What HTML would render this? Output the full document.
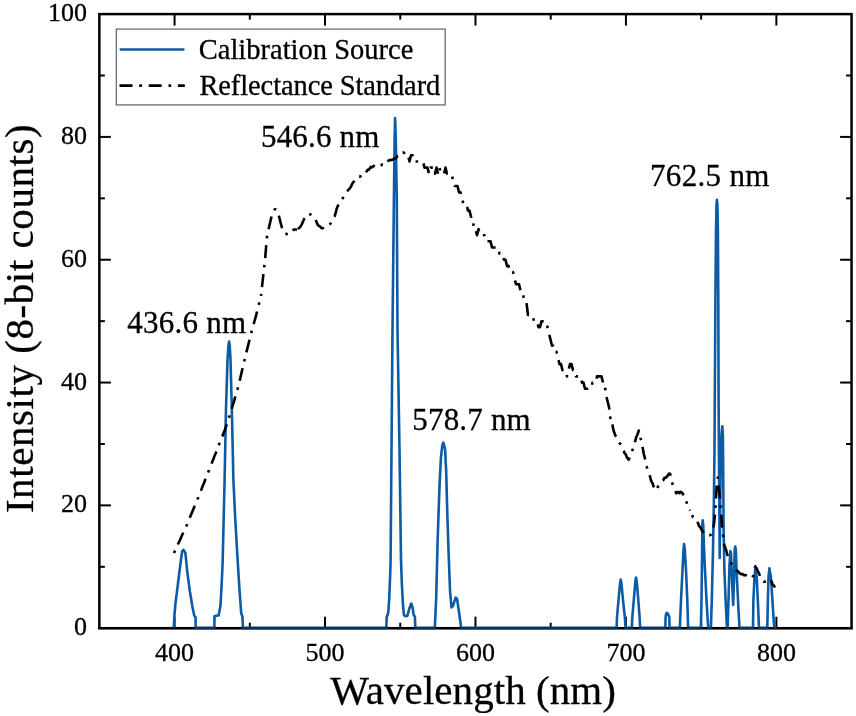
<!DOCTYPE html>
<html><head><meta charset="utf-8"><style>
html,body{margin:0;padding:0;background:#fff;}
svg{display:block;-webkit-font-smoothing:antialiased;filter:blur(0.35px);}
text{filter:grayscale(1);}
text{font-family:"Liberation Serif",serif;fill:#000;stroke:#000;stroke-width:0.3px;}
</style></head><body>
<svg width="856" height="716" viewBox="0 0 856 716">
<rect width="856" height="716" fill="#fff"/>
<g stroke="#000" stroke-width="2"><line x1="174.57" y1="628.2" x2="174.57" y2="616.7"/><line x1="174.57" y1="14.1" x2="174.57" y2="25.6"/><line x1="249.80" y1="628.2" x2="249.80" y2="622.7"/><line x1="249.80" y1="14.1" x2="249.80" y2="19.6"/><line x1="325.02" y1="628.2" x2="325.02" y2="616.7"/><line x1="325.02" y1="14.1" x2="325.02" y2="25.6"/><line x1="400.25" y1="628.2" x2="400.25" y2="622.7"/><line x1="400.25" y1="14.1" x2="400.25" y2="19.6"/><line x1="475.48" y1="628.2" x2="475.48" y2="616.7"/><line x1="475.48" y1="14.1" x2="475.48" y2="25.6"/><line x1="550.70" y1="628.2" x2="550.70" y2="622.7"/><line x1="550.70" y1="14.1" x2="550.70" y2="19.6"/><line x1="625.93" y1="628.2" x2="625.93" y2="616.7"/><line x1="625.93" y1="14.1" x2="625.93" y2="25.6"/><line x1="701.15" y1="628.2" x2="701.15" y2="622.7"/><line x1="701.15" y1="14.1" x2="701.15" y2="19.6"/><line x1="776.38" y1="628.2" x2="776.38" y2="616.7"/><line x1="776.38" y1="14.1" x2="776.38" y2="25.6"/><line x1="99.35" y1="566.79" x2="104.85" y2="566.79"/><line x1="851.6" y1="566.79" x2="846.1" y2="566.79"/><line x1="99.35" y1="505.38" x2="110.85" y2="505.38"/><line x1="851.6" y1="505.38" x2="840.1" y2="505.38"/><line x1="99.35" y1="443.97" x2="104.85" y2="443.97"/><line x1="851.6" y1="443.97" x2="846.1" y2="443.97"/><line x1="99.35" y1="382.56" x2="110.85" y2="382.56"/><line x1="851.6" y1="382.56" x2="840.1" y2="382.56"/><line x1="99.35" y1="321.15" x2="104.85" y2="321.15"/><line x1="851.6" y1="321.15" x2="846.1" y2="321.15"/><line x1="99.35" y1="259.74" x2="110.85" y2="259.74"/><line x1="851.6" y1="259.74" x2="840.1" y2="259.74"/><line x1="99.35" y1="198.33" x2="104.85" y2="198.33"/><line x1="851.6" y1="198.33" x2="846.1" y2="198.33"/><line x1="99.35" y1="136.92" x2="110.85" y2="136.92"/><line x1="851.6" y1="136.92" x2="840.1" y2="136.92"/><line x1="99.35" y1="75.51" x2="104.85" y2="75.51"/><line x1="851.6" y1="75.51" x2="846.1" y2="75.51"/></g>
<rect x="99.35" y="14.1" width="752.2" height="614.1" fill="none" stroke="#000" stroke-width="2.5"/>
<path d="M173.8,627.9 L174.4,615.8 L175.5,603.0 L177.0,591.4 L180.2,565.7 L182.1,551.6 L183.4,549.8 L185.4,552.9 L187.3,572.1 L189.9,591.4 L192.4,606.8 L194.3,615.8 L195.6,617.1 L195.6,627.9 L214.4,627.9 L214.5,616.0 L218.6,615.5 L220.5,605.5 L221.6,585.0 L222.6,563.7 L224.6,480.0 L226.0,408.0 L227.5,360.0 L228.4,346.0 L229.1,341.5 L229.8,346.0 L230.5,360.0 L231.8,408.0 L233.4,480.0 L235.3,520.0 L237.2,553.0 L239.5,590.0 L241.2,613.0 L242.5,617.0 L242.9,627.9 L386.3,627.9 L386.7,617.0 L388.2,613.0 L389.2,599.0 L390.2,575.0 L390.6,560.0 L391.5,450.0 L392.5,330.0 L393.9,200.0 L394.6,140.0 L395.1,118.0 L395.8,140.0 L396.8,200.0 L397.5,330.0 L399.5,450.0 L401.0,560.0 L401.9,584.5 L402.9,604.0 L403.9,614.8 L405.3,616.3 L407.3,615.8 L409.2,609.0 L411.2,603.5 L412.7,608.0 L413.6,614.8 L414.9,616.8 L415.3,627.9 L434.8,627.9 L436.2,597.6 L437.6,541.7 L439.5,485.9 L440.9,457.9 L442.3,445.4 L443.4,442.6 L445.1,449.6 L446.2,471.9 L447.3,513.8 L448.7,555.7 L450.1,592.0 L451.5,607.4 L452.9,606.0 L455.7,597.6 L457.1,599.0 L458.5,608.8 L460.5,622.7 L461.0,627.9 L616.6,627.9 L617.0,617.0 L618.5,600.0 L620.0,584.0 L620.7,579.5 L621.5,584.0 L623.0,600.0 L624.8,617.0 L625.6,627.9 L631.8,627.9 L632.3,617.0 L633.8,600.0 L635.3,582.0 L636.0,577.5 L636.8,582.0 L638.3,600.0 L639.6,617.0 L640.1,627.9 L665.3,627.9 L665.6,617.0 L666.2,613.5 L666.8,612.8 L667.8,613.5 L669.3,617.0 L669.6,627.9 L679.9,627.9 L681.0,600.0 L682.5,570.0 L683.5,550.0 L684.1,544.0 L684.8,550.0 L686.0,570.0 L687.3,600.0 L688.1,627.9 L700.9,627.9 L701.5,600.0 L702.0,560.0 L702.4,525.0 L702.7,520.3 L703.2,525.0 L704.5,560.0 L706.5,600.0 L708.2,627.9 L710.9,627.9 L711.8,600.0 L712.9,555.0 L713.9,500.0 L714.5,450.0 L714.8,400.0 L715.4,300.0 L716.0,230.0 L716.5,205.0 L716.9,199.8 L717.4,205.0 L717.9,230.0 L718.3,300.0 L718.6,400.0 L718.9,450.0 L719.3,500.0 L719.7,558.0 L720.2,500.0 L720.8,460.0 L721.5,435.0 L722.3,426.4 L722.9,435.0 L723.2,470.0 L723.6,530.0 L724.4,570.0 L725.6,600.0 L727.0,627.9 L727.6,627.9 L728.5,600.0 L729.5,565.0 L730.4,551.0 L731.0,553.0 L732.0,580.0 L733.2,605.0 L734.0,580.0 L734.7,550.0 L735.2,546.5 L735.8,550.0 L737.0,580.0 L738.5,610.0 L739.5,627.9 L753.0,627.9 L753.4,599.7 L754.5,577.3 L755.3,568.4 L756.7,577.3 L757.8,599.7 L759.0,627.9 L767.3,627.9 L767.9,599.7 L768.5,577.3 L769.4,568.4 L770.9,577.3 L772.4,599.7 L773.8,622.0 L774.3,627.9 L776.0,627.9" fill="none" stroke="#0d5aa7" stroke-width="2.6" stroke-linejoin="round"/>
<path d="M174.0,553.0 L175.5,549.6 L177.0,546.5 L178.5,543.0 L180.0,540.0 L181.5,536.4 L183.0,533.3 L184.5,529.8 L186.0,526.8 L187.0,524.5 L187.5,523.1 L189.0,519.8 L190.5,516.1 L192.0,512.5 L193.5,508.7 L195.0,505.3 L196.5,501.3 L198.0,498.0 L199.5,494.1 L200.0,493.0 L201.0,490.6 L202.5,486.5 L204.0,483.0 L205.5,478.9 L207.0,475.1 L208.5,471.6 L210.0,467.4 L211.5,463.9 L213.0,460.0 L214.5,456.0 L216.0,452.5 L217.5,448.4 L219.0,444.6 L220.5,440.8 L222.0,437.3 L223.5,433.2 L224.8,430.0 L226.5,425.0 L228.0,420.1 L229.5,415.9 L231.0,411.2 L231.6,409.3 L232.5,406.1 L234.0,401.3 L235.5,395.9 L237.0,391.1 L238.5,385.8 L240.0,379.5 L241.5,372.8 L243.0,366.6 L244.5,360.1 L245.3,356.5 L246.0,353.6 L247.5,347.9 L249.0,341.9 L250.5,335.8 L252.2,329.1 L253.5,324.4 L255.0,319.4 L256.1,315.4 L258.0,307.7 L259.5,302.0 L261.0,295.9" fill="none" stroke="#000" stroke-width="2.6" stroke-dasharray="2.6 6.8 13 6.8" stroke-dashoffset="0.00" stroke-linejoin="round"/><path d="M261.0,295.9 L262.5,282.3 L264.0,268.8 L265.1,259.1 L266.9,237.3 L268.7,228.8 L270.0,223.0 L271.6,216.2 L273.2,211.2 L274.8,209.2 L276.0,209.5 L276.5,210.2 L277.5,212.1 L278.1,213.0 L279.0,216.2 L280.5,222.3 L281.4,225.6 L282.0,227.9 L283.7,233.0 L285.0,233.7 L286.5,233.9 L288.4,234.9 L289.5,234.2 L291.0,232.1 L292.5,230.9 L293.5,229.8 L294.0,229.4 L295.5,229.5 L297.0,230.0" fill="none" stroke="#000" stroke-width="2.6" stroke-dasharray="2.6 6.8 13 6.8" stroke-dashoffset="0.57" stroke-linejoin="round"/><path d="M297.0,230.0 L297.7,229.8 L298.5,228.5 L300.0,227.3 L301.5,225.1 L303.0,221.5 L304.5,218.4 L306.1,215.3 L307.5,214.6 L308.3,213.8 L309.0,213.9 L310.3,214.4 L312.0,215.1 L313.5,216.1 L314.1,216.7 L315.0,218.3 L316.5,221.9 L317.8,225.1 L319.5,226.1 L321.0,227.7 L322.5,228.4 L324.0,227.6 L325.5,227.8 L327.2,227.0 L328.5,226.0 L330.0,224.2 L331.5,222.5 L333.0,219.8 L334.6,216.7 L336.0,211.6 L336.5,209.2 L337.5,206.7 L339.0,203.0" fill="none" stroke="#000" stroke-width="2.6" stroke-dasharray="2.6 6.8 13 6.8" stroke-dashoffset="8.01" stroke-linejoin="round"/><path d="M339.0,203.0 L340.5,200.5 L342.0,199.6 L343.5,196.7 L344.9,195.9 L346.5,194.0 L348.0,190.1 L349.3,188.9 L351.0,186.6 L352.5,183.3 L353.7,181.8 L355.5,179.5 L357.0,179.3 L358.9,176.6 L360.0,176.8 L361.5,174.3 L363.0,174.9 L364.5,173.1 L365.0,173.1 L366.0,172.5 L367.5,169.9 L369.0,169.7 L370.5,167.1 L371.2,167.0 L372.0,167.5 L373.5,165.8 L375.0,167.0 L376.4,166.1 L378.0,165.0 L379.5,165.9 L381.0,165.3 L382.6,164.3 L384.0,164.3 L385.5,162.3 L386.1,162.6 L387.0,163.0 L388.5,160.5 L390.0,160.1 L391.3,159.9 L393.0,159.4 L394.8,158.2 L396.0,158.4 L397.5,155.6 L399.0,154.7 L400.1,155.6 L402.0,154.1 L403.5,152.4 L404.5,153.5 L405.0,155.3 L406.5,155.3 L408.0,155.3 L409.5,161.5 L411.0,155.3 L412.5,155.3 L414.0,161.5 L415.5,161.5 L417.0,161.5 L418.5,161.5 L420.0,161.5 L421.5,161.5 L423.0,161.5 L424.5,167.6 L426.0,167.6 L427.5,167.6 L429.0,173.8 L430.5,167.6 L432.0,167.6 L433.5,167.6 L435.0,173.8 L436.5,167.6 L438.0,173.8 L439.5,167.6 L441.0,173.8 L442.5,173.8 L444.0,173.8 L445.5,167.6 L447.0,173.8 L448.5,173.8 L450.0,173.8 L451.5,173.8 L453.0,179.9 L454.5,186.0 L456.0,186.0 L457.5,186.0 L459.0,192.2 L460.5,192.2 L462.0,198.3 L463.5,204.5 L465.0,204.5 L466.5,204.5 L468.0,210.6 L469.5,210.6 L471.0,216.8 L472.5,216.8 L474.0,229.0 L475.5,229.0 L477.0,235.2 L478.5,229.0 L480.0,235.2 L481.5,235.2 L483.0,235.2 L484.5,235.2 L486.0,241.3 L487.5,241.3 L489.0,241.3 L490.5,241.3 L492.0,247.5 L493.5,247.5 L495.0,247.5 L496.5,247.5 L498.0,247.5 L499.5,253.6 L501.0,253.6 L502.5,253.6 L504.0,259.7 L505.5,259.7 L507.0,265.9 L508.5,265.9 L510.0,272.0 L511.5,272.0 L513.0,272.0 L514.5,278.2 L516.0,284.3 L517.5,284.3 L519.0,284.3 L520.5,290.4 L522.0,290.4 L523.5,296.6 L525.0,302.7 L526.5,302.7 L528.0,315.0 L529.5,315.0 L531.0,315.0 L532.5,315.0 L534.0,321.2 L535.5,321.2 L537.0,321.2 L538.5,327.3 L540.0,327.3 L541.5,321.2 L543.0,321.2 L544.5,321.2 L546.0,321.2 L547.5,327.3 L549.0,333.4 L550.5,339.6 L552.0,345.7 L553.5,345.7 L555.0,351.9 L556.5,351.9 L558.0,358.0 L559.5,364.1 L561.0,364.1 L562.5,370.3 L564.0,370.3 L565.5,370.3 L567.0,376.4 L568.5,370.3 L570.0,364.1 L571.5,364.1 L573.0,370.3 L574.5,370.3 L576.0,376.4 L577.5,376.4 L579.0,376.4 L580.5,376.4 L582.0,382.6 L583.5,382.6 L585.0,388.7 L586.5,388.7 L588.0,388.7 L589.5,388.7 L591.0,388.7 L592.5,382.6 L594.0,382.6 L595.5,382.6 L597.0,376.4 L598.5,376.4 L600.0,376.4 L601.5,376.4 L603.0,382.6 L604.5,382.6 L606.0,394.8 L607.5,401.0 L609.0,407.1 L610.5,419.4 L612.0,419.4 L612.8,427.1 L613.5,430.3 L615.3,435.5 L616.5,436.6 L618.0,440.8 L619.5,443.0 L620.3,443.9 L621.0,444.8 L622.5,447.9 L624.0,451.3 L624.5,453.1 L625.5,453.9 L627.0,457.5 L628.7,459.8 L630.0,456.8 L631.5,453.2 L632.9,448.9 L634.5,443.9 L636.2,437.2 L637.5,434.5 L638.8,430.5 L640.5,438.1 L641.3,440.5 L642.0,443.9 L643.8,454.0 L645.0,458.7 L646.3,465.4 L648.4,472.3 L649.5,474.5 L651.0,480.3 L651.9,482.1 L652.5,483.1 L654.0,488.0 L655.4,490.5 L657.0,488.7 L658.5,485.6 L659.6,484.9 L661.5,481.5 L663.0,480.6 L664.4,477.9 L666.0,477.7 L667.5,475.9 L669.0,473.6 L670.0,473.7 L670.5,475.1 L672.0,482.1 L672.8,484.9 L673.5,487.0 L675.0,489.8 L676.3,493.3 L678.0,491.9 L679.5,493.2 L680.5,491.9 L681.0,491.9 L682.5,493.3 L684.0,495.7 L684.7,496.1 L685.5,498.0 L687.0,503.9 L688.2,507.3 L690.0,510.6" fill="none" stroke="#000" stroke-width="2.6" stroke-dasharray="2.6 6.8 13 6.8" stroke-dashoffset="23.96" stroke-linejoin="round"/><path d="M690.0,510.6 L691.5,512.9 L692.4,515.6 L693.0,517.3 L694.5,517.5 L696.0,521.0 L696.6,521.2 L697.5,521.7 L699.0,525.9 L700.5,527.6 L701.5,529.6 L702.0,530.5 L703.5,532.6 L705.0,534.7 L705.6,535.2 L706.5,534.7 L708.0,535.2 L709.5,535.3 L711.2,534.5 L712.5,530.2 L714.0,524.0 L715.4,510.1 L716.1,496.1 L716.8,484.9 L717.8,477.5 L718.5,484.4 L720.1,499.1 L721.5,519.0 L722.2,528.4 L723.0,534.5 L724.3,545.2 L726.0,549.8 L727.5,555.2 L728.5,557.8 L729.0,558.5 L730.5,562.1 L731.3,563.4 L732.0,564.8 L733.5,566.2 L735.2,569.3 L736.5,570.6 L738.0,571.3 L739.5,573.1 L741.1,574.1 L742.5,574.0 L744.0,575.2 L745.0,575.1 L745.5,575.0 L747.0,576.1 L748.5,576.0 L750.0,577.6 L751.7,577.9 L753.4,575.7 L754.5,569.9 L755.3,566.2 L756.0,567.9 L756.7,568.4 L757.5,570.7 L759.0,573.4 L760.5,577.3 L762.3,580.7 L763.5,581.6 L764.6,581.8 L766.5,581.0 L768.0,579.0 L769.0,578.5 L769.5,579.6 L771.0,580.7 L771.8,582.4 L772.5,583.9 L774.0,586.0 L775.2,587.4" fill="none" stroke="#000" stroke-width="2.6" stroke-dasharray="2.6 6.8 13 6.8" stroke-dashoffset="24.20" stroke-linejoin="round"/>
<line x1="98.1" y1="628.2" x2="852.85" y2="628.2" stroke="#000" stroke-width="2.5" opacity="0.45"/>
<g><text x="86.9" y="635.2" text-anchor="end" font-size="26">0</text><text x="86.9" y="512.4" text-anchor="end" font-size="26">20</text><text x="86.9" y="389.6" text-anchor="end" font-size="26">40</text><text x="86.9" y="266.7" text-anchor="end" font-size="26">60</text><text x="86.9" y="143.9" text-anchor="end" font-size="26">80</text><text x="86.9" y="21.1" text-anchor="end" font-size="26">100</text><text x="174.6" y="660.9" text-anchor="middle" font-size="26">400</text><text x="325.0" y="660.9" text-anchor="middle" font-size="26">500</text><text x="475.5" y="660.9" text-anchor="middle" font-size="26">600</text><text x="625.9" y="660.9" text-anchor="middle" font-size="26">700</text><text x="776.4" y="660.9" text-anchor="middle" font-size="26">800</text></g>
<text x="330.3" y="703.6" font-size="41" textLength="285.7" lengthAdjust="spacing">Wavelength (nm)</text>
<text transform="translate(33,513.1) rotate(-90)" font-size="41" textLength="388.8" lengthAdjust="spacing">Intensity (8-bit counts)</text>
<text x="261" y="146.8" font-size="31" textLength="118.4" lengthAdjust="spacing">546.6 nm</text>
<text x="650" y="186.4" font-size="31" textLength="119.4" lengthAdjust="spacing">762.5 nm</text>
<text x="127.2" y="333.3" font-size="31" textLength="118.9" lengthAdjust="spacing">436.6 nm</text>
<text x="412.3" y="429.5" font-size="31" textLength="118.4" lengthAdjust="spacing">578.7 nm</text>
<rect x="116.3" y="29.1" width="328.9" height="75.8" fill="#fff" stroke="#6e6e6e" stroke-width="1.3"/>
<line x1="120.8" y1="49.5" x2="183.3" y2="49.5" stroke="#0d5aa7" stroke-width="2.6" stroke-linecap="round"/>
<line x1="119.5" y1="85.6" x2="184.8" y2="85.6" stroke="#000" stroke-width="2.6" stroke-dasharray="13 6.8 2.6 6.8"/>
<text x="198.8" y="58.6" font-size="28.5">Calibration Source</text>
<text x="199.4" y="95.0" font-size="28.5" textLength="240.9" lengthAdjust="spacing">Reflectance Standard</text>
</svg>
</body></html>
